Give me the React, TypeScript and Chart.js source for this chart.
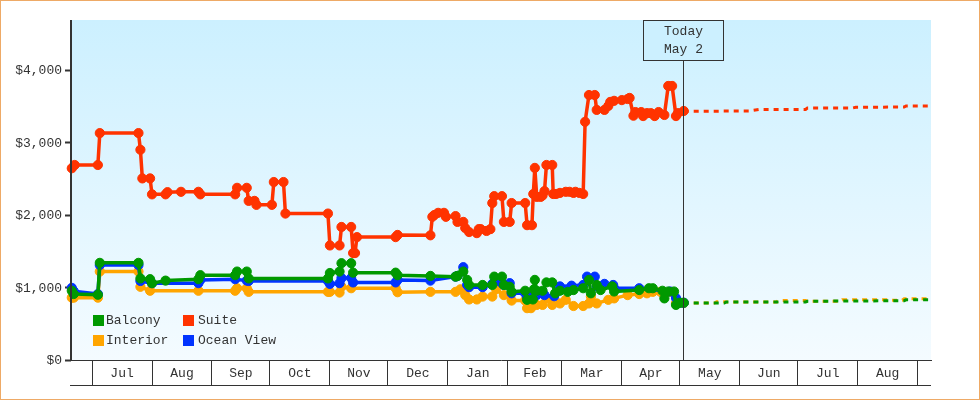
import { useEffect, useRef } from 'react';
import { Chart, registerables } from 'chart.js';

Chart.register(...registerables);

// x values are days counted from Jul 1
const monthStarts = [0, 31, 62, 92, 123, 153, 184, 215, 243, 274, 304, 335, 365, 396, 427];
const monthLabels = ['Jul', 'Aug', 'Sep', 'Oct', 'Nov', 'Dec', 'Jan', 'Feb', 'Mar', 'Apr', 'May', 'Jun', 'Jul', 'Aug'];
const priceTicks = [0, 1000, 2000, 3000, 4000];
const todayDay = 305.6;
const todayLabels = ['Today', 'May 2'];

const suiteDays = [-10.5, -9, 3, 4, 24, 25, 26, 30, 31, 38, 39, 46, 55, 56, 74, 75, 80, 81, 84, 85, 93, 94, 99, 100, 122, 123, 128, 129, 134, 135, 136, 137, 157, 158, 175, 176, 177, 179, 182, 183, 188, 189, 192, 193, 195, 199, 200, 201, 204, 206, 207, 208, 212, 213, 216, 217, 224, 225, 227.5, 228.2, 229, 230, 232, 233, 234, 235, 238, 238.5, 240, 242, 245, 247, 249, 250, 252, 254, 255, 257, 260, 261, 265, 267, 268, 270, 274, 277, 278, 280, 281, 284, 285, 287, 289, 291, 293, 296, 298, 300, 302, 303, 306];
const suitePrices = [2645, 2690, 2690, 3130, 3130, 2900, 2505, 2505, 2285, 2285, 2315, 2320, 2320, 2285, 2285, 2375, 2375, 2195, 2195, 2140, 2140, 2455, 2455, 2020, 2020, 1580, 1580, 1835, 1835, 1475, 1475, 1695, 1695, 1725, 1720, 1975, 2000, 2030, 2030, 1975, 1985, 1905, 1905, 1820, 1765, 1750, 1805, 1805, 1780, 1805, 2165, 2260, 2260, 1905, 1905, 2165, 2165, 1860, 1860, 2290, 2650, 2250, 2250, 2270, 2330, 2690, 2690, 2290, 2290, 2305, 2320, 2320, 2305, 2320, 2305, 2290, 3285, 3655, 3655, 3450, 3450, 3505, 3560, 3575, 3585, 3600, 3615, 3370, 3420, 3420, 3365, 3405, 3405, 3365, 3420, 3380, 3780, 3780, 3365, 3405, 3435];

const balconyDays = [-10.5, -9.5, 3, 4, 24, 25, 30, 31, 38, 55, 56, 74, 75, 80, 81, 122, 123, 128, 129, 134, 135, 157, 158, 175, 188, 189, 192, 194, 195, 202, 207, 208, 212, 213, 216, 217, 224, 225, 228, 228.5, 229, 230, 233, 235, 238, 239.5, 242, 246, 249, 254, 257, 258, 261, 263, 269, 270, 283, 288, 290, 295, 296, 298, 301, 302, 304, 306];
const balconyPrices = [955, 910, 900, 1340, 1340, 1125, 1115, 1060, 1095, 1115, 1170, 1170, 1220, 1220, 1125, 1125, 1200, 1220, 1335, 1335, 1205, 1205, 1170, 1160, 1150, 1160, 1220, 1105, 1035, 1035, 1035, 1150, 1150, 1035, 1010, 940, 955, 830, 835, 975, 1105, 955, 955, 1070, 1070, 920, 955, 940, 965, 990, 1105, 920, 1035, 965, 1015, 945, 965, 990, 990, 955, 850, 945, 945, 760, 790, 790];

const oceanDays = [-10.5, -9.5, 3, 4, 24, 25, 31, 55, 56, 74, 80, 81, 122, 123, 128, 129, 134, 135, 157, 158, 175, 188, 189, 192, 194, 195, 202, 207, 208, 212, 213, 216, 217, 224, 225, 228, 230, 234, 239, 242, 248, 254, 256, 260, 261, 265, 269.5, 270, 283, 299, 302, 304, 306];
const oceanPrices = [995, 950, 910, 1310, 1310, 1090, 1060, 1060, 1105, 1115, 1095, 1090, 1090, 1050, 1060, 1130, 1130, 1070, 1070, 1105, 1095, 1150, 1160, 1280, 1035, 1005, 1005, 1050, 1075, 1060, 1035, 1060, 920, 920, 870, 895, 895, 895, 880, 1015, 1025, 1035, 1150, 1150, 1015, 1050, 1035, 990, 990, 945, 855, 790, 790];

const interiorDays = [-10.5, -9.5, 3, 4, 24, 25, 30, 55, 74, 75, 80, 81, 122, 123, 128, 129, 134, 157, 158, 175, 188, 190.5, 193, 195, 199, 202, 207, 209, 213, 217, 224, 225, 227, 230, 233, 235, 238, 242, 245, 249, 254, 257, 258, 261, 267, 270, 277, 283, 287, 290, 294, 299, 302, 306];
const interiorPrices = [860, 860, 860, 1220, 1220, 1010, 955, 955, 955, 990, 990, 940, 940, 940, 930, 1010, 990, 990, 935, 940, 940, 975, 895, 835, 835, 875, 875, 975, 895, 820, 820, 715, 715, 760, 760, 850, 760, 780, 830, 745, 745, 780, 875, 780, 830, 850, 895, 910, 920, 940, 940, 940, 785, 785];

// forecast after today
const suiteForecastDays = [306, 340, 345, 369, 370, 393, 395, 420, 421, 433];
const suiteForecastPrices = [3430, 3435, 3455, 3455, 3475, 3475, 3485, 3490, 3505, 3505];
const balconyForecastDays = [306, 327, 328, 369, 370, 420, 421, 433];
const balconyForecastPrices = [785, 785, 800, 800, 810, 818, 830, 830];
const interiorForecastDays = [306, 322, 323, 327, 328, 354, 355, 369, 370, 387, 388, 411, 412, 419, 420, 433];
const interiorForecastPrices = [785, 785, 805, 805, 800, 800, 820, 820, 810, 810, 830, 830, 825, 825, 845, 845];

const GREEN = '#009900';
const RED = '#ff3300';
const ORANGE = '#ffa500';
const BLUE = '#0033ff';
const INK = '#333333';
const FONT = '13px "Liberation Mono", monospace';

const legendItems = [
  { label: 'Balcony', color: GREEN },
  { label: 'Suite', color: RED },
  { label: 'Interior', color: ORANGE },
  { label: 'Ocean View', color: BLUE },
];

const toPoints = (days: number[], prices: number[]) => days.map((d, i) => ({ x: d, y: prices[i] }));

const solid = (label: string, color: string, days: number[], prices: number[]) => ({
  label,
  data: toPoints(days, prices),
  borderColor: color,
  backgroundColor: color,
  borderWidth: 3.5,
  borderJoinStyle: 'round',
  pointStyle: 'circle',
  pointRadius: 4.6,
  pointBorderWidth: 1,
  clip: false,
});

const dashed = (label: string, color: string, days: number[], prices: number[]) => ({
  label,
  data: toPoints(days, prices),
  borderColor: color,
  borderWidth: 3,
  borderDash: [5, 5],
  pointRadius: 0,
});

const backdrop = {
  id: 'backdrop',
  beforeDatasetsDraw(chart: any) {
    const { ctx, chartArea: a } = chart;
    const g = ctx.createLinearGradient(0, a.top, 0, a.bottom);
    g.addColorStop(0, '#ccf0ff');
    g.addColorStop(1, '#f4fbff');
    ctx.save();
    ctx.fillStyle = g;
    ctx.fillRect(a.left, a.top, a.right - a.left, a.bottom - a.top);
    ctx.restore();
  },
};

const annotations = {
  id: 'annotations',
  afterDatasetsDraw(chart: any) {
    const { ctx, chartArea: a, scales } = chart;
    const tx = Math.round(scales.x.getPixelForValue(todayDay)) + 0.5;
    ctx.save();
    ctx.strokeStyle = INK;
    ctx.lineWidth = 1;

    // row under the month labels
    ctx.beginPath();
    ctx.moveTo(a.left - 1, a.bottom + 25.5);
    ctx.lineTo(a.right, a.bottom + 25.5);
    ctx.moveTo(tx, a.top + 40);
    ctx.lineTo(tx, a.bottom);
    ctx.stroke();

    // today box
    ctx.fillStyle = '#ccf0ff';
    ctx.fillRect(tx - 40, a.top + 0.5, 80, 40);
    ctx.strokeRect(tx - 40, a.top + 0.5, 80, 40);
    ctx.fillStyle = INK;
    ctx.font = FONT;
    ctx.textAlign = 'center';
    ctx.textBaseline = 'middle';
    ctx.fillText(todayLabels[0], tx, a.top + 12);
    ctx.fillText(todayLabels[1], tx, a.top + 30);

    // legend, two columns
    ctx.textAlign = 'left';
    legendItems.forEach((item, i) => {
      const x = i % 2 === 0 ? 93 : 183;
      const y = i < 2 ? 315 : 335;
      ctx.fillStyle = item.color;
      ctx.fillRect(x, y, 11, 11);
      ctx.fillStyle = INK;
      ctx.fillText(item.label, x + (i % 2 === 0 ? 13 : 15), y + 6);
    });

    // y axis drawn heavier, over the first markers' clip edge
    ctx.fillStyle = INK;
    ctx.fillRect(a.left - 1, a.top, 2, a.bottom - a.top);
    ctx.restore();
  },
};

export default function App() {
  const canvasRef = useRef<HTMLCanvasElement | null>(null);

  useEffect(() => {
    if (!canvasRef.current) return;
    const midpoints = monthLabels.map((_, i) => (monthStarts[i] + monthStarts[i + 1]) / 2);

    const chart = new Chart(canvasRef.current, {
      type: 'line',
      data: {
        datasets: [
          solid('Balcony', GREEN, balconyDays, balconyPrices),
          solid('Ocean View', BLUE, oceanDays, oceanPrices),
          solid('Interior', ORANGE, interiorDays, interiorPrices),
          solid('Suite', RED, suiteDays, suitePrices),
          dashed('Balcony forecast', GREEN, balconyForecastDays, balconyForecastPrices),
          dashed('Interior forecast', ORANGE, interiorForecastDays, interiorForecastPrices),
          dashed('Suite forecast', RED, suiteForecastDays, suiteForecastPrices),
        ] as any,
      },
      options: {
        animation: false,
        responsive: false,
        layout: { padding: { left: 0, top: 20, right: 49, bottom: 0 } },
        plugins: { legend: { display: false }, tooltip: { enabled: false } },
        scales: {
          x: {
            type: 'linear',
            min: -10.9,
            max: 433.9,
            afterBuildTicks: (scale: any) => {
              scale.ticks = [...monthStarts, ...midpoints].sort((a, b) => a - b).map((value) => ({ value }));
            },
            afterFit: (scale: any) => {
              scale.height = 40;
            },
            border: { color: INK, width: 1 },
            grid: {
              drawOnChartArea: false,
              tickLength: 25,
              tickColor: (c: any) => (monthStarts.includes(c.tick?.value) ? INK : 'rgba(0,0,0,0)'),
            },
            ticks: {
              autoSkip: false,
              maxRotation: 0,
              padding: -19,
              color: INK,
              font: { family: '"Liberation Mono", monospace', size: 13 },
              callback: (value: any) => {
                const i = midpoints.indexOf(value);
                return i >= 0 ? monthLabels[i] : '';
              },
            },
          },
          y: {
            min: 0,
            max: 4690,
            afterBuildTicks: (scale: any) => {
              scale.ticks = priceTicks.map((value) => ({ value }));
            },
            afterFit: (scale: any) => {
              scale.width = 71;
            },
            border: { display: false },
            grid: { drawOnChartArea: false, tickLength: 6, tickWidth: 2, tickColor: INK },
            ticks: {
              padding: 3,
              labelOffset: 1,
              color: INK,
              font: { family: '"Liberation Mono", monospace', size: 13 },
              callback: (value: any) => '$' + Number(value).toLocaleString('en-US'),
            },
          },
        },
      },
      plugins: [backdrop, annotations],
    });

    return () => chart.destroy();
  }, []);

  return (
    <div
      style={{
        position: 'absolute',
        left: 0,
        top: 0,
        width: 980,
        height: 400,
        boxSizing: 'border-box',
        border: '1px solid #eeaa66',
        background: '#fff',
      }}
    >
      <canvas ref={canvasRef} width={980} height={400} style={{ position: 'absolute', left: -1, top: -1 }} />
    </div>
  );
}
